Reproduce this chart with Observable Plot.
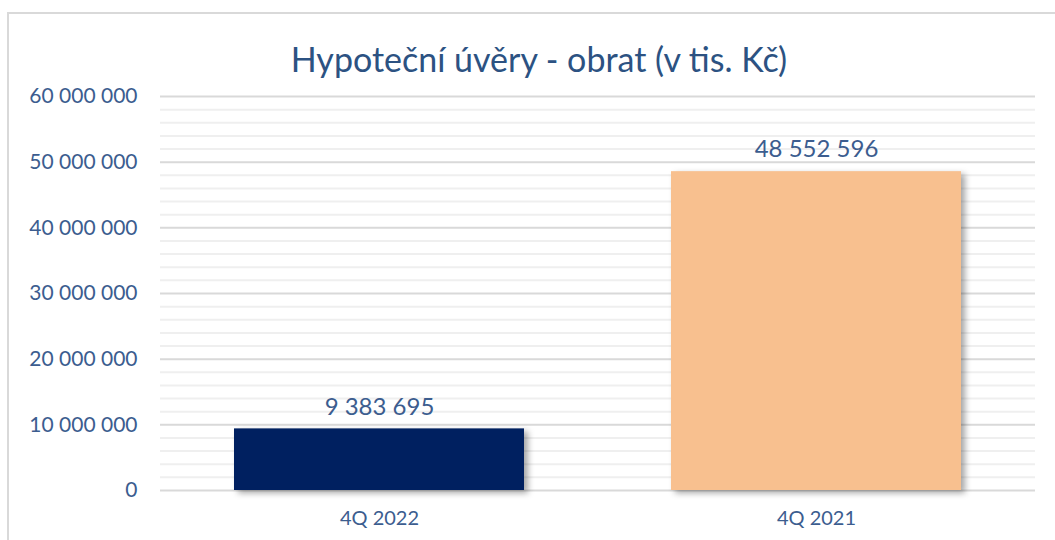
<!DOCTYPE html>
<html>
<head>
<meta charset="utf-8">
<script src="https://cdn.jsdelivr.net/npm/d3@7"></script>
<script src="https://cdn.jsdelivr.net/npm/@observablehq/plot@0.6"></script>
<style>
  html, body { margin: 0; padding: 0; background: #fff; }
  #wrap { position: relative; width: 1055px; height: 540px; overflow: hidden; font-family: Lato, "Open Sans", sans-serif; }
  #frame { position: absolute; left: 7px; top: 12px; width: 1060px; height: 540px; border: 2px solid #d9d9d9; box-sizing: border-box; }
  #title { position: absolute; left: 0; width: 1078px; top: 38px; text-align: center; font-size: 34px; color: #2c5282; font-family: Lato, sans-serif; }
  #chart { position: absolute; left: 0; top: 0; }
</style>
</head>
<body>
<div id="wrap">
  <div id="frame"></div>
  <div id="chart"></div>
  <div id="title">Hypoteční úvěry - obrat (v tis. Kč)</div>
</div>
<script>
const categories = ["4Q 2022", "4Q 2021"];
const values = [9383695, 48552596];
const colors = ["#002060", "#F8C08F"];
const majorTicks = [0, 10000000, 20000000, 30000000, 40000000, 50000000, 60000000];
const minorTicks = d3.range(0, 60000001, 2000000);

const locale = d3.formatLocale({decimal: ",", thousands: " ", grouping: [3], currency: ["", ""]});
const fmt = locale.format(",");

const data = categories.map((c, i) => ({category: c, value: values[i], color: colors[i]}));
const textColor = "#3c5d8f";

const svg = Plot.plot({
  width: 1055,
  height: 540,
  marginLeft: 160,
  marginRight: 20,
  marginTop: 96,
  marginBottom: 50,
  style: {fontFamily: "Lato, sans-serif", background: "transparent"},
  x: {domain: categories, paddingInner: 0.336, paddingOuter: 0.167, label: null},
  y: {domain: [0, 60000000], label: null},
  marks: [
    Plot.ruleY(minorTicks.filter(d => !majorTicks.includes(d)), {stroke: "#efefef", strokeWidth: 2}),
    Plot.ruleY(majorTicks, {stroke: "#d9d9d9", strokeWidth: 2}),
    Plot.barY(data, {x: "category", y: "value", fill: "color"}),
    Plot.text(data, {x: "category", y: "value", text: d => fmt(d.value), dy: -22, fill: textColor, fontSize: 24, lineAnchor: "middle"}),
    Plot.axisY({ticks: majorTicks, tickSize: 0, tickPadding: 23, tickFormat: fmt, fontSize: 21, color: textColor}),
    Plot.axisX({tickSize: 0, tickPadding: 20, fontSize: 20, color: textColor})
  ]
});
d3.select(svg).selectAll('g[aria-label="bar"]').style("filter", "drop-shadow(4px 3px 3px rgba(0,0,0,0.35))");
document.getElementById("chart").appendChild(svg);
</script>
</body>
</html>
